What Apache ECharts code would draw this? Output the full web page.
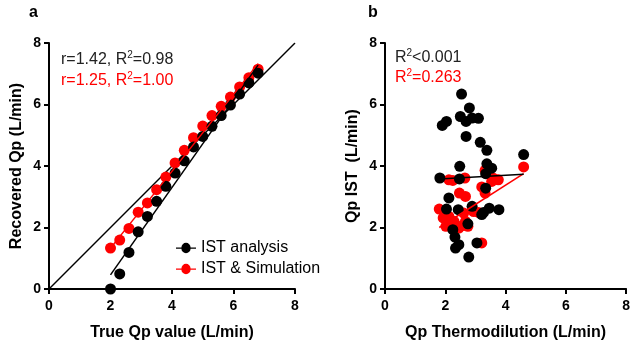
<!DOCTYPE html>
<html><head><meta charset="utf-8">
<script src="https://cdn.jsdelivr.net/npm/echarts@6/dist/echarts.min.js"></script>
<style>html,body{margin:0;padding:0;background:#fff}#c{width:633px;height:349px}</style>
</head><body><div id="c"></div>
<script>
// Panel a
var trueQp = [2.0,2.3,2.6,2.9,3.2,3.5,3.8,4.1,4.4,4.7,5.0,5.3,5.6,5.9,6.2,6.5,6.8];
var istAnalysis = [0,0.49,1.19,1.86,2.36,2.85,3.34,3.77,4.17,4.62,4.96,5.29,5.64,5.98,6.34,6.70,7.02];
var istSimulation = [1.33,1.59,1.97,2.5,2.8,3.23,3.64,4.1,4.51,4.92,5.3,5.64,5.94,6.24,6.57,6.87,7.15];
var identityLine = [0, 8];
var aFitX = [2.0, 6.8];
var aFitBlack = [0.46, 7.28];
var aFitRed = [1.33, 7.33];
// Panel b
var bThermoBlack = [2.54,2.8,2.5,2.69,2.89,3.1,2.04,1.9,2.69,3.16,3.38,4.6,2.48,3.38,3.54,3.34,1.82,2.47,3.34,2.12,2.04,2.43,2.89,3.46,3.27,3.21,3.78,2.75,2.25,2.32,2.45,2.34,3.05,2.78];
var bIstBlack = [6.34,5.89,5.61,5.45,5.56,5.55,5.45,5.32,4.96,4.77,4.51,4.37,3.99,4.07,3.93,3.75,3.61,3.58,3.28,2.96,2.6,2.58,2.69,2.63,2.49,2.42,2.58,2.12,1.93,1.69,1.44,1.33,1.5,1.04];
var bThermoRed = [4.6,3.43,3.32,2.12,2.25,2.65,3.76,3.54,3.21,2.47,2.67,3.32,1.8,1.93,2.12,2.02,2.29,2.61,2.67,2.94,3.1,2.56,2.75,2.18,3.21,2.45,3.6];
var bIstRed = [3.97,3.77,3.86,3.55,3.53,3.61,3.55,3.5,3.32,3.12,3.01,3.12,2.6,2.31,2.36,2.04,2.2,2.47,2.2,2.52,2.49,2.06,2.04,2.1,1.5,1.98,3.6];
var bFitX = [1.8, 4.6];
var bFitBlack = [3.58, 3.73];
var bFitRed = [2.0, 3.75];
var ticks = [0, 2, 4, 6, 8];

function zip(a, b){ return a.map(function(v,i){ return [v, b[i]]; }); }
var FONT = "'Liberation Sans', Arial, sans-serif";
var RED = '#ff0000';

function axis(grid, name, isY){
  return {
    type:'value', gridIndex:grid, min:ticks[0], max:ticks[ticks.length-1], interval:2,
    name:name, nameLocation:'middle', nameGap: isY ? 24 : 36,
    nameTextStyle:{fontFamily:FONT, fontWeight:'bold', fontSize:16, color:'#000'},
    axisLine:{show:true, onZero:false, lineStyle:{color:'#000', width:2}},
    axisTick:{show:true, length:5, lineStyle:{color:'#000', width:2}},
    axisLabel:{fontFamily:FONT, fontWeight:'bold', fontSize:14, color:'#000', margin: isY ? 8 : 10},
    splitLine:{show:false}
  };
}
var iconPath = 'path://M0,4.4H5.2A4.4,4.4 0 0 1 14,4.4H19.2V5.6H14A4.4,4.4 0 0 1 5.2,5.6H0Z';
function richText(color){
  return {
    n:{fontFamily:FONT, fontSize:16, fill:color, lineHeight:18, verticalAlign:'bottom'},
    s:{fontFamily:FONT, fontSize:10, fill:color, lineHeight:10, verticalAlign:'top'}
  };
}

var chart = echarts.init(document.getElementById('c'), null, {renderer:'canvas'});
chart.setOption({
  animation:false,
  backgroundColor:'#fff',
  grid:[
    {left:49, top:43, width:246, height:246},
    {left:385, top:43, width:245, height:246}
  ],
  xAxis:[axis(0,'True Qp value (L/min)',false), axis(1,'Qp Thermodilution (L/min)',false)],
  yAxis:[axis(0,'Recovered Qp (L/min)',true), axis(1,'Qp IST  (L/min)',true)],
  legend:{
    orient:'vertical', left:171, top:235, itemWidth:20, itemHeight:11, itemGap:5,
    textStyle:{fontFamily:FONT, fontSize:16, color:'#000'},
    data:[{name:'IST analysis', icon:iconPath},{name:'IST & Simulation', icon:iconPath}]
  },
  graphic:[
    {type:'text', left:29, top:5, style:{text:'a', font:'bold 16px '+FONT, fill:'#000'}},
    {type:'text', left:368, top:5, style:{text:'b', font:'bold 16px '+FONT, fill:'#000'}},
    {type:'text', left:61, top:50, style:{text:'{n|r=1.42, R}{s|2}{n|=0.98}', fill:'#222', rich:richText('#222')}},
    {type:'text', left:61, top:71, style:{text:'{n|r=1.25, R}{s|2}{n|=1.00}', fill:RED, rich:richText(RED)}},
    {type:'text', left:395, top:48, style:{text:'{n|R}{s|2}{n|<0.001}', fill:'#222', rich:richText('#222')}},
    {type:'text', left:395, top:68, style:{text:'{n|R}{s|2}{n|=0.263}', fill:RED, rich:richText(RED)}}
  ],
  series:[
    {type:'line', xAxisIndex:0, yAxisIndex:0, data:zip(identityLine, identityLine), symbol:'none', lineStyle:{color:'#000', width:1.5}, z:1},
    {name:'IST & Simulation', type:'scatter', xAxisIndex:0, yAxisIndex:0, data:zip(trueQp, istSimulation), symbolSize:11, itemStyle:{color:RED, opacity:1}, z:2},
    {name:'IST analysis', type:'scatter', xAxisIndex:0, yAxisIndex:0, data:zip(trueQp, istAnalysis), symbolSize:11, itemStyle:{color:'#000', opacity:1}, z:3},
    {type:'line', xAxisIndex:0, yAxisIndex:0, data:zip(aFitX, aFitRed), symbol:'none', lineStyle:{color:RED, width:1.5}, z:4},
    {type:'line', xAxisIndex:0, yAxisIndex:0, data:zip(aFitX, aFitBlack), symbol:'none', lineStyle:{color:'#000', width:1.5}, z:4},

    {name:'IST & Simulation', type:'scatter', xAxisIndex:1, yAxisIndex:1, data:zip(bThermoRed, bIstRed), symbolSize:11, itemStyle:{color:RED, opacity:1}, z:2},
    {name:'IST analysis', type:'scatter', xAxisIndex:1, yAxisIndex:1, data:zip(bThermoBlack, bIstBlack), symbolSize:11, itemStyle:{color:'#000', opacity:1}, z:3},
    {type:'line', xAxisIndex:1, yAxisIndex:1, data:zip(bFitX, bFitRed), symbol:'none', lineStyle:{color:RED, width:1.5}, z:4},
    {type:'line', xAxisIndex:1, yAxisIndex:1, data:zip(bFitX, bFitBlack), symbol:'none', lineStyle:{color:'#000', width:1.5}, z:4}
  ]
});
</script></body></html>
